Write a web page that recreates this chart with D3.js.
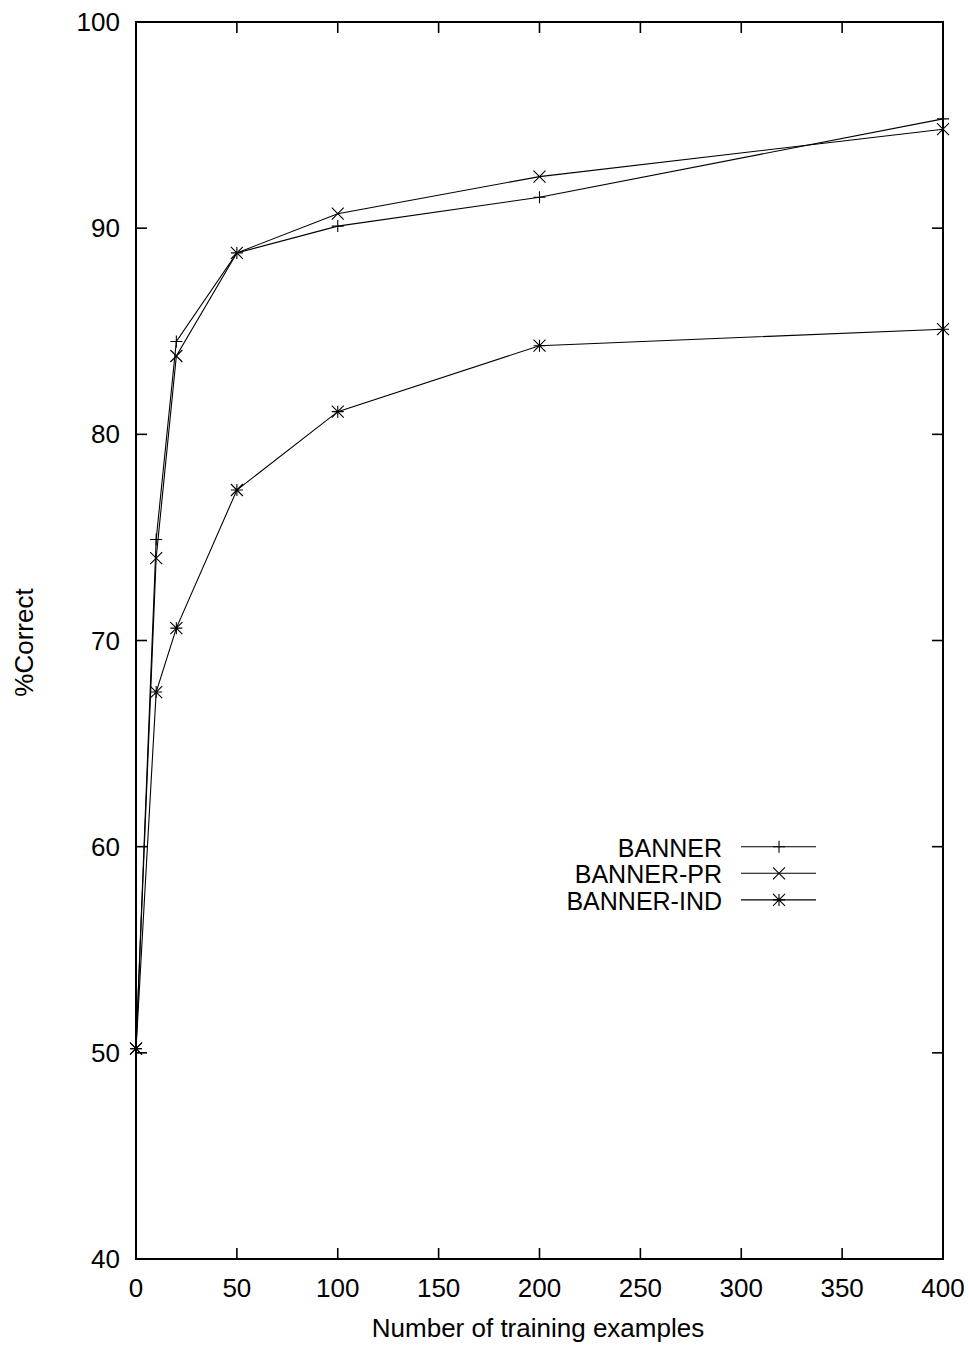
<!DOCTYPE html>
<html>
<head>
<meta charset="utf-8">
<script src="https://cdn.jsdelivr.net/npm/d3@7"></script>
<style>
  body { margin: 0; background: #fff; }
  svg { display: block; font-family: "Liberation Sans", Arial, sans-serif; }
</style>
</head>
<body>
<div id="main-container"></div>
<script>
// Data
const X_VALUES = [0, 10, 20, 50, 100, 200, 400];
const BANNER = [50.2, 74.9, 84.5, 88.8, 90.1, 91.5, 95.3];
const BANNER_PR = [50.2, 74.0, 83.8, 88.8, 90.7, 92.5, 94.8];
const BANNER_IND = [50.2, 67.5, 70.6, 77.3, 81.1, 84.3, 85.1];
const X_TICKS = [0, 50, 100, 150, 200, 250, 300, 350, 400];
const Y_TICKS = [40, 50, 60, 70, 80, 90, 100];

const SERIES = [
    { name: 'BANNER', values: BANNER, marker: 'plus' },
    { name: 'BANNER-PR', values: BANNER_PR, marker: 'cross' },
    { name: 'BANNER-IND', values: BANNER_IND, marker: 'star' }
];

const WIDTH = 969;
const HEIGHT = 1345;
const PLOT = { left: 136, right: 943, top: 22, bottom: 1259 };
const TICK_LEN = 11;
const M = 6; // marker half-size
const FONT = '26px';

const SVG = d3.select('#main-container').append('svg')
    .attr('width', WIDTH)
    .attr('height', HEIGHT);

const X = d3.scaleLinear().domain([0, 400]).range([PLOT.left, PLOT.right]);
const Y = d3.scaleLinear().domain([40, 100]).range([PLOT.bottom, PLOT.top]);

// Ticks (mirrored on both sides, pointing inward)
const TICKS = SVG.append('g').attr('stroke', '#000').attr('stroke-width', 1.6);
TICKS.selectAll('.yl').data(Y_TICKS).join('line')
    .attr('x1', PLOT.left).attr('x2', PLOT.left + TICK_LEN)
    .attr('y1', d => Y(d)).attr('y2', d => Y(d));
TICKS.selectAll('.yr').data(Y_TICKS).join('line')
    .attr('x1', PLOT.right).attr('x2', PLOT.right - TICK_LEN)
    .attr('y1', d => Y(d)).attr('y2', d => Y(d));
TICKS.selectAll('.xb').data(X_TICKS).join('line')
    .attr('x1', d => X(d)).attr('x2', d => X(d))
    .attr('y1', PLOT.bottom).attr('y2', PLOT.bottom - TICK_LEN);
TICKS.selectAll('.xt').data(X_TICKS).join('line')
    .attr('x1', d => X(d)).attr('x2', d => X(d))
    .attr('y1', PLOT.top).attr('y2', PLOT.top + TICK_LEN);

// Tick labels
SVG.append('g').selectAll('text').data(Y_TICKS).join('text')
    .attr('x', PLOT.left - 16)
    .attr('y', d => Y(d) + 9)
    .attr('text-anchor', 'end')
    .style('font-size', FONT)
    .text(d => d);

SVG.append('g').selectAll('text').data(X_TICKS).join('text')
    .attr('x', d => X(d))
    .attr('y', PLOT.bottom + 38)
    .attr('text-anchor', 'middle')
    .style('font-size', FONT)
    .text(d => d);

// Axis titles
SVG.append('text')
    .attr('x', 538)
    .attr('y', PLOT.bottom + 78)
    .attr('text-anchor', 'middle')
    .style('font-size', FONT)
    .text('Number of training examples');

SVG.append('text')
    .attr('transform', `translate(33, ${(PLOT.top + PLOT.bottom) / 2 + 2}) rotate(-90)`)
    .attr('text-anchor', 'middle')
    .style('font-size', FONT)
    .text('%Correct');

// Marker path helper
function markerPath(type, cx, cy) {
    const p = d3.path();
    if (type === 'plus' || type === 'star') {
        p.moveTo(cx - M, cy); p.lineTo(cx + M, cy);
        p.moveTo(cx, cy - M); p.lineTo(cx, cy + M);
    }
    if (type === 'cross' || type === 'star') {
        p.moveTo(cx - M, cy - M); p.lineTo(cx + M, cy + M);
        p.moveTo(cx - M, cy + M); p.lineTo(cx + M, cy - M);
    }
    return p.toString();
}

const LINE = d3.line()
    .x((d, i) => X(X_VALUES[i]))
    .y(d => Y(d));

const DATA_G = SVG.append('g');
SERIES.forEach(s => {
    DATA_G.append('path')
        .attr('d', LINE(s.values))
        .attr('fill', 'none')
        .attr('stroke', '#000')
        .attr('stroke-width', 1.1);
    DATA_G.selectAll(null).data(s.values).join('path')
        .attr('d', (d, i) => markerPath(s.marker, X(X_VALUES[i]), Y(d)))
        .attr('fill', 'none')
        .attr('stroke', '#000')
        .attr('stroke-width', 1.1);
});

// Frame
SVG.append('rect')
    .attr('x', PLOT.left).attr('y', PLOT.top)
    .attr('width', PLOT.right - PLOT.left)
    .attr('height', PLOT.bottom - PLOT.top)
    .attr('fill', 'none')
    .attr('stroke', '#000')
    .attr('stroke-width', 2);

// Legend
const LEGEND = SVG.append('g').attr('id', 'legend');
const LEG_ITEMS = LEGEND.selectAll('g').data(SERIES).join('g')
    .attr('transform', (d, i) => `translate(0, ${846.7 + i * 26.6})`);
LEG_ITEMS.append('text')
    .attr('x', 722)
    .attr('y', 10)
    .attr('text-anchor', 'end')
    .style('font-size', '25px')
    .text(d => d.name);
LEG_ITEMS.append('line')
    .attr('x1', 741).attr('x2', 816)
    .attr('stroke', '#000').attr('stroke-width', 1.1);
LEG_ITEMS.append('path')
    .attr('d', d => markerPath(d.marker, 779, 0))
    .attr('fill', 'none')
    .attr('stroke', '#000')
    .attr('stroke-width', 1.1);
</script>
</body>
</html>
